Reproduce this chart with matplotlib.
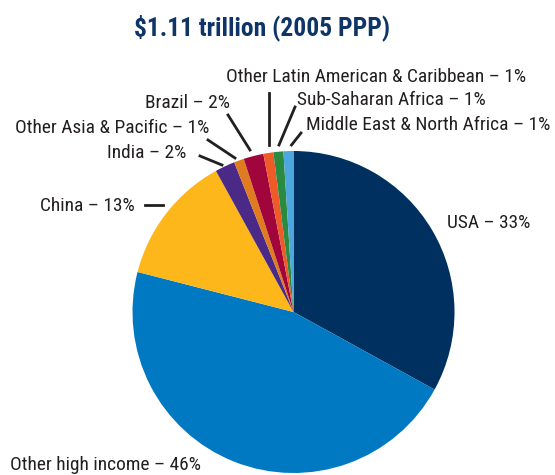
import matplotlib
matplotlib.use("Agg")
import matplotlib.pyplot as plt
from matplotlib.lines import Line2D

# ---- data ----
regions = ["USA", "Other high income", "China", "India", "Other Asia & Pacific",
           "Brazil", "Other Latin American & Caribbean", "Sub-Saharan Africa",
           "Middle East & North Africa"]
shares = [33, 46, 13, 2, 1, 2, 1, 1, 1]
colors = ["#00305F", "#0079C2", "#FDB71A", "#4A2A86", "#E07B20",
          "#A0053B", "#EE5A28", "#2A8A3F", "#4DA7DC"]
title = "$1.11 trillion (2005 PPP)"

W, H = 555, 475
plt.rcParams['font.family'] = ['Liberation Sans Narrow', 'Roboto Condensed',
                               'DejaVu Sans Condensed', 'Roboto', 'DejaVu Sans']
fig = plt.figure(figsize=(W / 100, H / 100), dpi=100)

# pie: center (293.5, 312) px, radius 161 px
cx, cy, r = 293.5, 312, 161
ax = fig.add_axes([(cx - r) / W, (H - cy - r) / H, 2 * r / W, 2 * r / H])
ax.pie(shares, colors=colors, startangle=90, counterclock=False,
       wedgeprops=dict(linewidth=0))
ax.set_xlim(-1, 1)
ax.set_ylim(-1, 1)
ax.set_aspect('equal')
ax.axis('off')

def fx(x):
    return x / W

def fy(y):
    return 1 - y / H

renderer = fig.canvas.get_renderer()

def fit(t, target_w):
    w = t.get_window_extent(renderer=renderer).width
    t.set_fontsize(t.get_fontsize() * target_w / w)

tt = fig.text(fx(262), fy(28), title, ha='center', va='center', fontsize=18,
              fontweight='bold', color='#0E3468')
fit(tt, 255)

txt_color = '#231F20'
# label layout: (x_left, y_center) in pixels, leader line endpoints
layout = {
    "USA": ((447, 223), None),
    "Other high income": ((10, 465), None),
    "China": ((40, 206), ((145, 205), (163, 205))),
    "India": ((107, 153), ((200, 156), (222, 165))),
    "Other Asia & Pacific": ((15, 128), ((208, 140), (235, 158))),
    "Brazil": ((145, 103), ((228, 115), (250, 150))),
    "Other Latin American & Caribbean": ((226, 77), ((268.5, 93), (268.5, 145))),
    "Sub-Saharan Africa": ((297, 100), ((295, 107), (279, 145))),
    "Middle East & North Africa": ((306, 125), ((301, 133), (291.5, 145))),
}

texts = []
for name, val in zip(regions, shares):
    (tx, ty), line = layout[name]
    t = fig.text(fx(tx), fy(ty), f"{name} \u2013 {val}%", ha='left', va='center',
                 fontsize=14, color=txt_color)
    texts.append((name, t))
    if line is not None:
        (x0, y0), (x1, y1) = line
        fig.add_artist(Line2D([fx(x0), fx(x1)], [fy(y0), fy(y1)],
                              transform=fig.transFigure, color=txt_color,
                              linewidth=2))

# common label size fitted to the longest label's width
ref = dict(texts)["Other Latin American & Caribbean"]
w = ref.get_window_extent(renderer=renderer).width
fs = 14 * 302 / w
for _, t in texts:
    t.set_fontsize(fs)

fig.savefig("out.png", dpi=100)
